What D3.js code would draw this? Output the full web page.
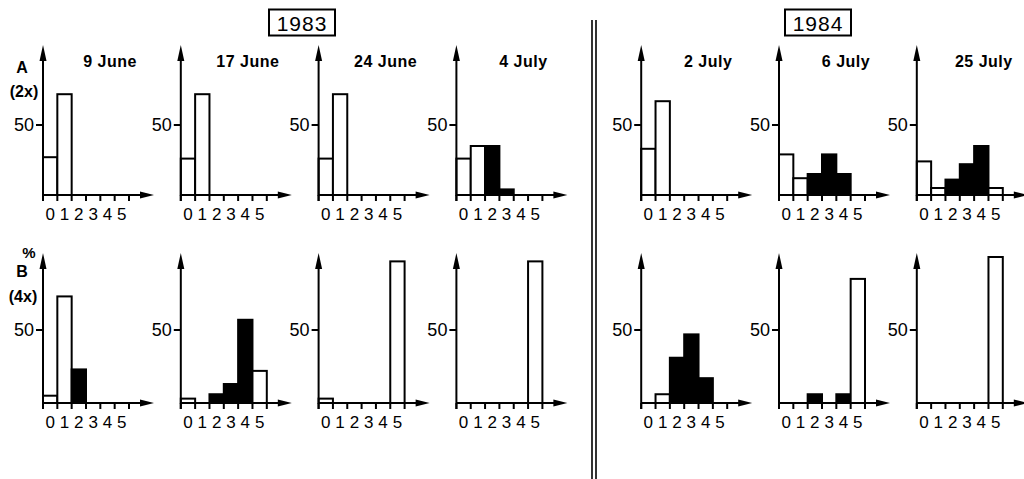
<!DOCTYPE html>
<html>
<head>
<meta charset="utf-8">
<script src="https://cdn.jsdelivr.net/npm/d3@7"></script>
<style>
  body { margin: 0; background: #fff; }
  svg { display: block; font-family: "Liberation Sans", Arial, sans-serif; }
</style>
</head>
<body>
<div id="chart"></div>
<script>
// ---- DATA ---- //
var dates = ["9 June", "17 June", "24 June", "4 July", "2 July", "6 July", "25 July"];
var years = ["1983", "1983", "1983", "1983", "1984", "1984", "1984"];
var classes = [0, 1, 2, 3, 4, 5];
var classEdges = [0, 1, 2, 3, 4, 5, 6];
var darkClasses = [2, 3, 4];

// % per class, row A (2x) and row B (4x), one array per date
var rowA = [
  [27, 72, 0, 0, 0, 0],
  [26, 72, 0, 0, 0, 0],
  [26, 72, 0, 0, 0, 0],
  [26, 35, 35, 4, 0, 0],
  [33, 67, 0, 0, 0, 0],
  [29, 12, 15, 29, 15, 0],
  [24, 5, 11, 22, 35, 5]
];
var rowB = [
  [5, 73, 23, 0, 0, 0],
  [3, 0, 6, 13, 57, 22],
  [3, 0, 0, 0, 0, 97],
  [0, 0, 0, 0, 0, 97],
  [0, 6, 31, 47, 17, 0],
  [0, 0, 6, 0, 6, 85],
  [0, 0, 0, 0, 0, 100]
];
var rowLabels = [["A", "(2x)"], ["%", "B", "(4x)"]];
var yTicks = [50];

// ---- LAYOUT ---- //
var width = 1024, height = 479;

var svg = d3.select("#chart")
  .append("svg")
  .attr("width", width)
  .attr("height", height);

var rows = [
  { data: rowA, base: 195, y50: 125, top: 45 },
  { data: rowB, base: 403, y50: 330, top: 253 }
];

var x = d3.scaleLinear()
  .domain([0, 6])
  .range([0, 86]);

var axisEnd = 111;

function panelX(i) {
  return 43 + i * 137.8 + (years[i] === "1984" ? 47 : 0);
}

// ---- YEAR BOXES AND DIVIDER ---- //
var yearBoxes = [
  { label: "1983", cx: 302 },
  { label: "1984", cx: 818 }
];

yearBoxes.forEach(function(b) {
  svg.append("rect")
    .attr("x", b.cx - 33)
    .attr("y", 9.5)
    .attr("width", 66)
    .attr("height", 26)
    .attr("fill", "none")
    .attr("stroke", "#000")
    .attr("stroke-width", 2);
  svg.append("text")
    .attr("x", b.cx)
    .attr("y", 30.5)
    .attr("text-anchor", "middle")
    .attr("font-size", 21)
    .attr("letter-spacing", 1)
    .text(b.label);
});

[592, 596].forEach(function(lx) {
  svg.append("line")
    .attr("x1", lx).attr("x2", lx)
    .attr("y1", 20).attr("y2", height)
    .attr("stroke", "#000")
    .attr("stroke-width", 1.6);
});

// ---- PANELS ---- //
rows.forEach(function(row, r) {
  var y = d3.scaleLinear()
    .domain([0, 50])
    .range([row.base, row.y50]);

  dates.forEach(function(date, i) {
    var g = svg.append("g")
      .attr("transform", "translate(" + panelX(i) + ",0)");

    var values = row.data[i];

    // bars
    g.selectAll(".bar")
      .data(classes.filter(function(c) { return values[c] > 0; }))
      .enter().append("rect")
      .attr("class", "bar")
      .attr("x", function(c) { return x(c); })
      .attr("y", function(c) { return y(values[c]); })
      .attr("width", x(1) - x(0))
      .attr("height", function(c) { return y(0) - y(values[c]); })
      .attr("fill", function(c) { return darkClasses.indexOf(c) >= 0 ? "#000" : "#fff"; })
      .attr("stroke", "#000")
      .attr("stroke-width", 2);

    // x ticks at class edges
    g.selectAll(".xtick")
      .data(classEdges)
      .enter().append("line")
      .attr("class", "xtick")
      .attr("x1", function(d) { return x(d); })
      .attr("x2", function(d) { return x(d); })
      .attr("y1", row.base)
      .attr("y2", row.base + 6)
      .attr("stroke", "#000")
      .attr("stroke-width", 2);

    // class labels at class centres
    g.selectAll(".xlabel")
      .data(classes)
      .enter().append("text")
      .attr("class", "xlabel")
      .attr("x", function(c) { return x(c + 0.5); })
      .attr("y", row.base + 25)
      .attr("text-anchor", "middle")
      .attr("font-size", 17)
      .text(function(c) { return c; });

    // y tick
    g.selectAll(".ytick")
      .data(yTicks)
      .enter().append("line")
      .attr("class", "ytick")
      .attr("x1", -7).attr("x2", 0)
      .attr("y1", function(d) { return y(d); })
      .attr("y2", function(d) { return y(d); })
      .attr("stroke", "#000")
      .attr("stroke-width", 2);
    g.selectAll(".ylabel")
      .data(yTicks)
      .enter().append("text")
      .attr("class", "ylabel")
      .attr("x", -9)
      .attr("y", function(d) { return y(d); })
      .attr("dy", "0.35em")
      .attr("text-anchor", "end")
      .attr("font-size", 18)
      .text(function(d) { return d; });

    // axes with arrows
    g.append("line")
      .attr("x1", 0).attr("x2", axisEnd - 10)
      .attr("y1", row.base).attr("y2", row.base)
      .attr("stroke", "#000").attr("stroke-width", 2);
    g.append("path")
      .attr("d", "M" + (axisEnd - 14) + "," + (row.base - 3.5) + "L" + axisEnd + "," + row.base +
                 "L" + (axisEnd - 14) + "," + (row.base + 3.5) + "Z")
      .attr("fill", "#000");

    g.append("line")
      .attr("x1", 0).attr("x2", 0)
      .attr("y1", row.base + 6).attr("y2", row.top + 10)
      .attr("stroke", "#000").attr("stroke-width", 2);
    g.append("path")
      .attr("d", "M-3.5," + (row.top + 16) + "L0," + row.top + "L3.5," + (row.top + 16) + "Z")
      .attr("fill", "#000");

    // date title
    if (r === 0) {
      g.append("text")
        .attr("x", 67)
        .attr("y", 67)
        .attr("text-anchor", "middle")
        .attr("font-size", 16)
        .attr("font-weight", "bold")
        .attr("letter-spacing", 0.5)
        .text(date);
    }
  });
});

// ---- ROW LABELS ---- //
svg.append("text").attr("x", 22).attr("y", 73).attr("text-anchor", "middle")
  .attr("font-size", 16).attr("font-weight", "bold").text(rowLabels[0][0]);
svg.append("text").attr("x", 24).attr("y", 97).attr("text-anchor", "middle")
  .attr("font-size", 16).attr("font-weight", "bold").text(rowLabels[0][1]);
svg.append("text").attr("x", 29).attr("y", 258).attr("text-anchor", "middle")
  .attr("font-size", 15).attr("font-weight", "bold").text(rowLabels[1][0]);
svg.append("text").attr("x", 22).attr("y", 277).attr("text-anchor", "middle")
  .attr("font-size", 16).attr("font-weight", "bold").text(rowLabels[1][1]);
svg.append("text").attr("x", 23).attr("y", 302).attr("text-anchor", "middle")
  .attr("font-size", 16).attr("font-weight", "bold").text(rowLabels[1][2]);
</script>
</body>
</html>
